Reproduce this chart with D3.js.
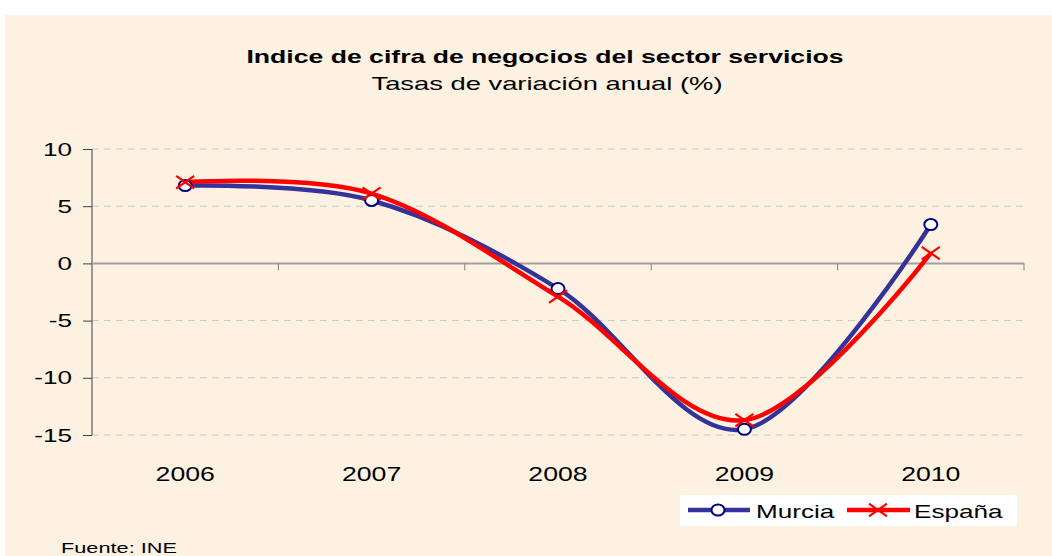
<!DOCTYPE html>
<html><head><meta charset="utf-8">
<script src="https://cdn.jsdelivr.net/npm/d3@7"></script>
<style>body{margin:0;background:#fff}svg{display:block}</style>
</head><body>
<svg id="c" width="1052" height="556"></svg>
<script>
const categories = ["2006","2007","2008","2009","2010"];
const murcia = [6.8, 5.5, -2.2, -14.5, 3.4];
const espana = [7.1, 6.1, -2.9, -13.7, 0.9];
const yTicks = [10, 5, 0, -5, -10, -15];
const seriesNames = ["Murcia", "España"];

const svg = d3.select("#c");
const font = "Arial, 'Liberation Sans', sans-serif";
svg.append("rect").attr("x",5).attr("y",15).attr("width",1047).attr("height",541).attr("fill","#FDF2E1");

const x = d3.scaleBand().domain(categories).range([92,1024]);
const y = d3.scaleLinear().domain([-15,10]).range([435,149]);

function txt(g, px, py, s, size, anchor, bold, sx){
  return g.append("text").attr("transform",`translate(${px},${py}) scale(${sx||1.45},1)`)
    .attr("text-anchor",anchor||"start").attr("font-family",font).attr("font-size",size)
    .attr("font-weight",bold?"bold":"normal").attr("fill","#000").text(s);
}

// gridlines
svg.append("g").selectAll("line").data(yTicks.filter(d=>d!==0)).join("line")
  .attr("x1",92).attr("x2",1024).attr("y1",d=>y(d)).attr("y2",d=>y(d))
  .attr("stroke","#c8c8c8").attr("stroke-width",1).attr("stroke-dasharray","7,5");

// y axis
const ya = svg.append("g").attr("transform","translate(92,0)")
  .call(d3.axisLeft(y).tickValues(yTicks).tickSize(9).tickFormat(""));
ya.select(".domain").attr("stroke","#404040").attr("d","M0,"+y(10)+"V"+y(-15));
ya.selectAll(".tick line").attr("stroke","#404040");
const yl = svg.append("g");
yTicks.forEach(t=>txt(yl, 72, y(t)+6.5, String(t), 18, "end"));

// x axis at zero
const xa = svg.append("g").attr("transform","translate(0,"+y(0)+")");
xa.append("line").attr("x1",92).attr("x2",1024).attr("stroke","#a0a0a0").attr("stroke-width",2);
xa.selectAll("line.t").data(categories).join("line").attr("class","t")
  .attr("x1",d=>x(d)+x.bandwidth()).attr("x2",d=>x(d)+x.bandwidth()).attr("y1",0).attr("y2",7)
  .attr("stroke","#808080");
const xl = svg.append("g");
categories.forEach(c=>txt(xl, x(c)+x.bandwidth()/2, 481, c, 20.5, "middle", false, 1.3));

const line = d3.line().x((d,i)=>x(categories[i])+x.bandwidth()/2).y(d=>y(d)).curve(d3.curveCatmullRom.alpha(0));

svg.append("path").datum(murcia).attr("d",line).attr("fill","none").attr("stroke","#333399").attr("stroke-width",4.5);
svg.append("path").datum(espana).attr("d",line).attr("fill","none").attr("stroke","#FF0000").attr("stroke-width",4.5);

function xMark(g, cx, cy, s){
  g.append("path").attr("d",`M${cx-s},${cy-s*0.7}L${cx+s},${cy+s*0.7}M${cx-s},${cy+s*0.7}L${cx+s},${cy-s*0.7}`)
   .attr("stroke","#FF0000").attr("stroke-width",2.2).attr("fill","none");
}
svg.append("g").selectAll("ellipse").data(murcia).join("ellipse")
  .attr("cx",(d,i)=>x(categories[i])+x.bandwidth()/2).attr("cy",d=>y(d)).attr("rx",6.5).attr("ry",5.5)
  .attr("fill","#fff").attr("stroke","#000080").attr("stroke-width",2);
const mg = svg.append("g");
espana.forEach((d,i)=>xMark(mg, x(categories[i])+x.bandwidth()/2, y(d), 9));

// title
txt(svg, 545, 63, "Indice de cifra de negocios del sector servicios", 19, "middle", true, 1.4);
txt(svg, 547, 90, "Tasas de variación anual (%)", 18, "middle", false, 1.52);

// legend
const lg = svg.append("g");
lg.append("rect").attr("x",680).attr("y",495).attr("width",337).attr("height",31).attr("fill","#fff");
lg.append("line").attr("x1",688).attr("x2",750).attr("y1",510).attr("y2",510).attr("stroke","#333399").attr("stroke-width",4.5);
lg.append("ellipse").attr("cx",718).attr("cy",510).attr("rx",6.5).attr("ry",5.5).attr("fill","#fff").attr("stroke","#000080").attr("stroke-width",2);
txt(lg, 756, 518, seriesNames[0], 18, "start");
lg.append("line").attr("x1",847).attr("x2",910).attr("y1",510).attr("y2",510).attr("stroke","#FF0000").attr("stroke-width",4.5);
xMark(lg, 878, 510, 9);
txt(lg, 914, 518, seriesNames[1], 18, "start");

txt(svg, 61, 553, "Fuente: INE", 15, "start");
</script>
</body></html>
